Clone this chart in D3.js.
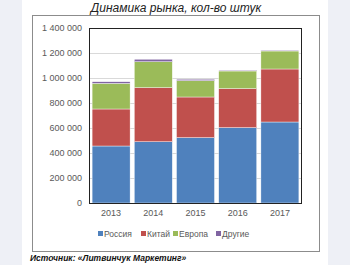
<!DOCTYPE html>
<html>
<head>
<meta charset="utf-8">
<script src="https://cdn.jsdelivr.net/npm/d3@7"></script>
<style>
body { margin: 0; background: #eef0f6; }
svg { display: block; font-family: "Liberation Sans", Arial, sans-serif; }
</style>
</head>
<body>
<script>
let w = 350
let h = 265

let years = ["2013", "2014", "2015", "2016", "2017"]
let seriesNames = ["Россия", "Китай", "Европа", "Другие"]
let russia = [456000, 490000, 523000, 603000, 648000]
let china = [296000, 433000, 325000, 312000, 424000]
let europe = [205000, 207000, 131000, 141000, 144000]
let others = [13000, 20000, 11000, 6000, 6000]
let yTicks = [0, 200000, 400000, 600000, 800000, 1000000, 1200000, 1400000]
let colors = ["#4f81bd", "#c0504d", "#9bbb59", "#8064a2"]

let rows = years.map((y, i) => ({
	year: y,
	"Россия": russia[i],
	"Китай": china[i],
	"Европа": europe[i],
	"Другие": others[i]
}))

let svg = d3.select("body")
	.append("svg")
	.attr("width", w)
	.attr("height", h)

// white page strip
svg.append("rect")
	.attr("x", 22).attr("y", 0)
	.attr("width", 306).attr("height", h)
	.attr("fill", "#fff")

// outer frame
svg.append("rect")
	.attr("x", 32.5).attr("y", 15.5)
	.attr("width", 287).attr("height", 236)
	.attr("fill", "none")
	.attr("stroke", "#8c8c8c")

svg.append("text")
	.attr("x", 176).attr("y", 12)
	.attr("text-anchor", "middle")
	.attr("font-size", 12)
	.attr("font-style", "italic")
	.attr("fill", "#222")
	.text("Динамика рынка, кол-во штук")

let plotL = 90, plotR = 301, plotT = 28, plotB = 203

let xScale = d3.scaleBand()
	.domain(years)
	.range([plotL, plotR])
	.paddingInner(0.1)
	.paddingOuter(0.05)

let yScale = d3.scaleLinear()
	.domain([0, 1400000])
	.range([plotB, plotT])

let fmt = v => d3.format(",")(v).replace(/,/g, " ")

// grid
svg.append("g")
	.selectAll("line")
	.data(yTicks)
	.enter()
	.append("line")
	.attr("x1", plotL).attr("x2", plotR)
	.attr("y1", d => Math.round(yScale(d)) + 0.5)
	.attr("y2", d => Math.round(yScale(d)) + 0.5)
	.attr("stroke", "#d9d9d9")

let yAxis = d3.axisLeft(yScale)
	.tickValues(yTicks)
	.tickFormat(fmt)
	.tickSize(0)
	.tickPadding(8)

svg.append("g")
	.attr("transform", "translate(" + plotL + ",0)")
	.call(yAxis)
	.call(g => g.select(".domain").remove())
	.selectAll("text")
	.attr("font-size", 9)
	.attr("fill", "#595959")

let stack = d3.stack().keys(seriesNames)
let layers = stack(rows)

svg.append("g")
	.selectAll("g")
	.data(layers)
	.enter()
	.append("g")
	.attr("fill", (d, i) => colors[i])
	.selectAll("rect")
	.data(d => d)
	.enter()
	.append("rect")
	.attr("x", d => xScale(d.data.year))
	.attr("width", xScale.bandwidth())
	.attr("y", d => yScale(d[1]))
	.attr("height", d => yScale(d[0]) - yScale(d[1]))
	.attr("stroke", "#fff")
	.attr("stroke-width", 0.4)

// plot frame
svg.append("rect")
	.attr("x", plotL - 0.5).attr("y", plotT + 0.5)
	.attr("width", plotR - plotL + 1).attr("height", plotB - plotT)
	.attr("fill", "none")
	.attr("stroke", "#222")

let xAxis = d3.axisBottom(xScale).tickSize(0).tickPadding(7)

svg.append("g")
	.attr("transform", "translate(0," + plotB + ")")
	.call(xAxis)
	.call(g => g.select(".domain").remove())
	.selectAll("text")
	.attr("font-size", 9)
	.attr("fill", "#595959")

// legend
let legendX = [98, 141, 173, 216]
let legend = svg.append("g")
	.selectAll("g")
	.data(seriesNames)
	.enter()
	.append("g")
	.attr("transform", (d, i) => "translate(" + legendX[i] + ",234)")

legend.append("rect")
	.attr("x", 0).attr("y", -3)
	.attr("width", 5).attr("height", 5)
	.attr("fill", (d, i) => colors[i])

legend.append("text")
	.attr("x", 6).attr("y", 3)
	.attr("font-size", 8.5)
	.attr("fill", "#595959")
	.text(d => d)

svg.append("text")
	.attr("x", 30).attr("y", 261)
	.attr("font-size", 8.5)
	.attr("font-style", "italic")
	.attr("font-weight", "bold")
	.attr("fill", "#111")
	.text("Источник: «Литвинчук Маркетинг»")
</script>
</body>
</html>
